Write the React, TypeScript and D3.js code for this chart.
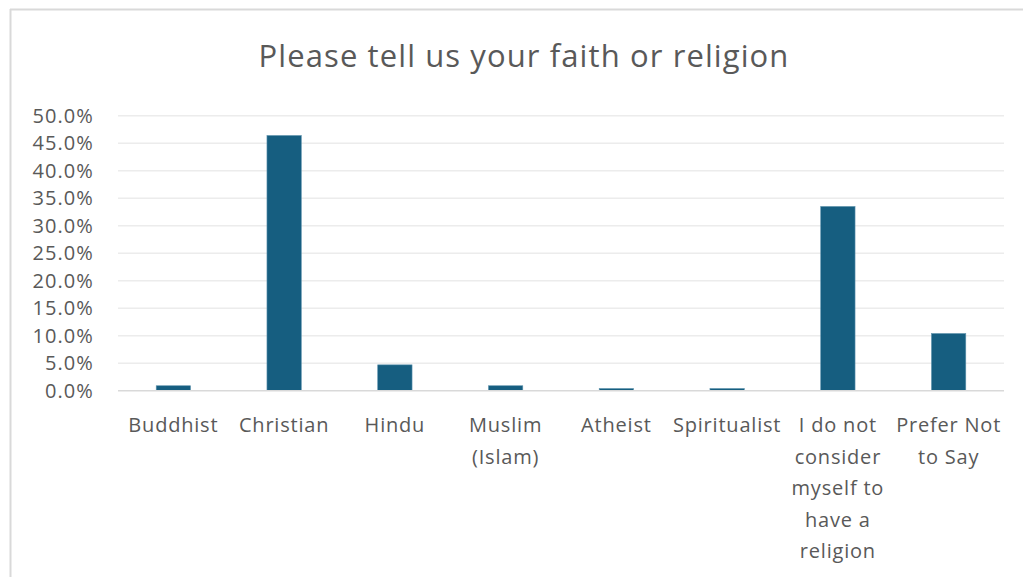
import React, { useEffect, useRef } from 'react';
import * as d3 from 'd3';

const categories = [
  'Buddhist',
  'Christian',
  'Hindu',
  'Muslim\n(Islam)',
  'Atheist',
  'Spiritualist',
  'I do not\nconsider\nmyself to\nhave a\nreligion',
  'Prefer Not\nto Say',
];
const values = [0.009, 0.464, 0.047, 0.009, 0.004, 0.004, 0.335, 0.104];
const yTicks = [0, 0.05, 0.1, 0.15, 0.2, 0.25, 0.3, 0.35, 0.4, 0.45, 0.5];
const title = 'Please tell us your faith or religion';

const App: React.FC = () => {
  const svgRef = useRef<SVGSVGElement>(null);

  useEffect(() => {
    if (!svgRef.current) return;
    const svg = d3.select(svgRef.current);
    svg.selectAll('*').remove();

    const width = 1023;
    const height = 577;
    const margin = { top: 115.7, right: 19, bottom: 186.3, left: 118 };
    const font = '"Open Sans", Lato, sans-serif';
    const textColor = '#595959';

    // chart frame (top and left edges visible)
    svg.append('line')
      .attr('x1', 10).attr('x2', width).attr('y1', 9.5).attr('y2', 9.5)
      .attr('stroke', '#d9d9d9').attr('stroke-width', 2);
    svg.append('line')
      .attr('x1', 10.5).attr('x2', 10.5).attr('y1', 9).attr('y2', height)
      .attr('stroke', '#d9d9d9').attr('stroke-width', 2);

    const x = d3.scaleBand()
      .domain(categories)
      .range([margin.left, width - margin.right])
      .paddingInner(0.69)
      .paddingOuter(0.345);

    const y = d3.scaleLinear()
      .domain([0, 0.5])
      .range([height - margin.bottom, margin.top]);

    // gridlines
    svg.append('g')
      .selectAll('line')
      .data(yTicks.slice(1))
      .join('line')
      .attr('x1', margin.left)
      .attr('x2', width - margin.right)
      .attr('y1', d => y(d))
      .attr('y2', d => y(d))
      .attr('stroke', '#ececec')
      .attr('stroke-width', 1.5);

    // y tick labels
    svg.append('g')
      .selectAll('text')
      .data(yTicks)
      .join('text')
      .attr('x', 94)
      .attr('y', d => y(d))
      .attr('dy', '0.35em')
      .attr('text-anchor', 'end')
      .attr('font-family', font)
      .attr('font-size', 20)
      .attr('letter-spacing', 1.1)
      .attr('fill', textColor)
      .text(d => d3.format('.1%')(d));

    // bars
    svg.append('g')
      .selectAll('rect')
      .data(values)
      .join('rect')
      .attr('x', (d, i) => x(categories[i]) ?? 0)
      .attr('y', d => y(d))
      .attr('width', x.bandwidth())
      .attr('height', d => y(0) - y(d))
      .attr('fill', '#165e80')
      .attr('stroke', '#5f93ad')
      .attr('stroke-width', 0.6);

    // baseline
    svg.append('line')
      .attr('x1', margin.left)
      .attr('x2', width - margin.right)
      .attr('y1', y(0))
      .attr('y2', y(0))
      .attr('stroke', '#d9d9d9')
      .attr('stroke-width', 1.5);

    // category labels
    const labels = svg.append('g')
      .selectAll('text')
      .data(categories)
      .join('text')
      .attr('x', d => (x(d) ?? 0) + x.bandwidth() / 2)
      .attr('y', 432)
      .attr('text-anchor', 'middle')
      .attr('font-family', font)
      .attr('font-size', 20)
      .attr('letter-spacing', 0.8)
      .attr('fill', textColor);
    labels.each(function (d) {
      const t = d3.select(this);
      d.split('\n').forEach((line, i) => {
        t.append('tspan')
          .attr('x', (x(d) ?? 0) + x.bandwidth() / 2)
          .attr('dy', i === 0 ? 0 : 31.5)
          .text(line);
      });
    });

    // title
    svg.append('text')
      .attr('x', 524)
      .attr('y', 67)
      .attr('text-anchor', 'middle')
      .attr('font-family', font)
      .attr('font-size', 31)
      .attr('letter-spacing', 1.1)
      .attr('fill', textColor)
      .text(title);
  }, []);

  return (
    <svg
      ref={svgRef}
      width={1023}
      height={577}
      style={{ position: 'absolute', left: 0, top: 0, background: '#fff' }}
    />
  );
};

export default App;
